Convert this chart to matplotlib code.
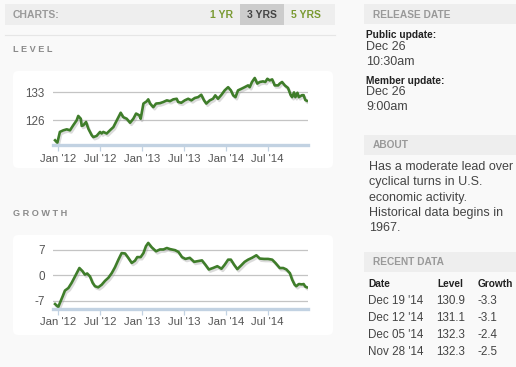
import numpy as np
import pandas as pd
import matplotlib
matplotlib.use('Agg')
import matplotlib.pyplot as plt
import matplotlib.dates as mdates
import matplotlib.patheffects as pe
from matplotlib.patches import FancyBboxPatch, Rectangle

plt.rcParams['font.family'] = ['Liberation Sans', 'DejaVu Sans']
plt.rcParams['axes.unicode_minus'] = False

# level series
level_dates = ['2011-12-18', '2011-12-28', '2012-01-08', '2012-01-23', '2012-02-07', '2012-02-21',
               '2012-03-06', '2012-03-21', '2012-03-28', '2012-04-08', '2012-04-12', '2012-04-19',
               '2012-05-01', '2012-05-11', '2012-05-26', '2012-06-02', '2012-06-16', '2012-07-01',
               '2012-07-08', '2012-07-15', '2012-07-30', '2012-08-13', '2012-08-28', '2012-09-12',
               '2012-09-29', '2012-10-10', '2012-10-25', '2012-11-09', '2012-11-23', '2012-12-05',
               '2012-12-19', '2012-12-25', '2013-01-06', '2013-01-20', '2013-01-27', '2013-02-04',
               '2013-02-18', '2013-03-02', '2013-03-19', '2013-04-03', '2013-04-18', '2013-05-02',
               '2013-05-16', '2013-05-31', '2013-06-06', '2013-06-20', '2013-07-05', '2013-07-20',
               '2013-08-03', '2013-08-18', '2013-09-01', '2013-09-15', '2013-09-27', '2013-10-07',
               '2013-10-22', '2013-11-05', '2013-11-15', '2013-11-27', '2013-12-12', '2013-12-26',
               '2014-01-10', '2014-01-22', '2014-02-01', '2014-02-11', '2014-02-22', '2014-03-09',
               '2014-03-23', '2014-04-07', '2014-04-14', '2014-04-24', '2014-05-06', '2014-05-17',
               '2014-05-28', '2014-06-11', '2014-06-21', '2014-06-30', '2014-07-10', '2014-07-21',
               '2014-08-01', '2014-08-16', '2014-08-23', '2014-09-02', '2014-09-14', '2014-09-28',
               '2014-10-10', '2014-10-16', '2014-10-24', '2014-10-30', '2014-11-08', '2014-11-14',
               '2014-11-28', '2014-12-05', '2014-12-12', '2014-12-19']
level_vals = [121.0, 120.4, 123.1, 123.5, 123.75, 123.5,
              124.75, 126.0, 127.1, 126.4, 124.6, 124.75,
              125.6, 123.9, 122.25, 121.8, 122.1, 123.1,
              122.7, 123.1, 122.7, 123.5, 124.3, 126.0,
              127.9, 126.8, 126.4, 125.4, 126.4, 127.7,
              127.25, 126.4, 130.2, 130.75, 131.25, 130.2,
              129.3, 130.2, 130.3, 130.6, 131.0, 130.8,
              131.25, 131.4, 130.6, 130.4, 131.0, 131.4,
              131.0, 131.6, 131.8, 132.4, 131.0, 130.2,
              131.0, 131.4, 132.25, 131.4, 132.4, 133.5,
              134.3, 133.5, 132.25, 131.8, 133.5, 133.9,
              134.3, 134.75, 134.3, 135.6, 136.6, 135.2,
              135.6, 135.75, 135.6, 136.4, 136.0, 136.25,
              134.75, 134.75, 135.2, 135.6, 134.75, 134.1,
              132.25, 131.8, 133.0, 131.8, 132.9, 131.8,
              132.3, 132.3, 131.1, 130.9]

# growth series
growth_dates = ['2011-12-18', '2012-01-01', '2012-01-08', '2012-01-20', '2012-01-30', '2012-02-14',
                '2012-02-28', '2012-03-14', '2012-04-02', '2012-04-16', '2012-04-26', '2012-05-06',
                '2012-05-18', '2012-05-30', '2012-06-09', '2012-06-23', '2012-07-08', '2012-07-23',
                '2012-08-06', '2012-08-21', '2012-09-04', '2012-09-19', '2012-10-03', '2012-10-18',
                '2012-11-01', '2012-11-16', '2012-11-30', '2012-12-10', '2012-12-25', '2013-01-06',
                '2013-01-17', '2013-01-27', '2013-02-11', '2013-03-02', '2013-03-19', '2013-04-03',
                '2013-04-18', '2013-05-02', '2013-05-24', '2013-06-08', '2013-06-23', '2013-07-08',
                '2013-07-27', '2013-08-15', '2013-09-01', '2013-09-18', '2013-10-03', '2013-10-18',
                '2013-11-05', '2013-11-24', '2013-12-12', '2013-12-26', '2014-01-10', '2014-01-22',
                '2014-02-05', '2014-02-19', '2014-03-09', '2014-03-23', '2014-04-07', '2014-04-24',
                '2014-05-13', '2014-05-28', '2014-06-16', '2014-07-03', '2014-07-21', '2014-08-04',
                '2014-08-23', '2014-09-07', '2014-09-21', '2014-10-06', '2014-10-16', '2014-10-27',
                '2014-11-03', '2014-11-14', '2014-11-28', '2014-12-05', '2014-12-12', '2014-12-19']
growth_vals = [-7.9, -8.7, -7.6, -5.8, -4.2, -3.5,
               -2.1, -0.3, 2.0, 1.1, 0.2, 0.5,
               -0.3, -2.1, -3.0, -3.3, -2.6, -1.5,
               -0.7, 0.6, 2.2, 4.3, 6.1, 6.0,
               4.8, 3.4, 4.0, 5.0, 5.0, 6.1,
               8.0, 8.9, 7.7, 6.6, 7.1, 7.1,
               7.5, 7.2, 6.9, 6.4, 5.0, 4.5,
               4.8, 3.7, 3.9, 4.1, 2.9, 1.6,
               2.0, 2.5, 1.8, 2.9, 4.3, 4.3,
               2.9, 1.7, 2.8, 3.7, 4.3, 4.8,
               5.5, 4.6, 4.5, 4.5, 4.3, 3.4,
               2.0, 2.0, 1.6, 0.6, -1.2, -2.6,
               -3.0, -2.4, -2.5, -2.4, -3.1, -3.3]

recent_dates = ["Dec 19 '14", "Dec 12 '14", "Dec 05 '14", "Nov 28 '14"]
recent_level = ['130.9', '131.1', '132.3', '132.3']
recent_growth = ['-3.3', '-3.1', '-2.4', '-2.5']

about_lines = ['Has a moderate lead over', 'cyclical turns in U.S.',
               'economic activity.', 'Historical data begins in', '1967.']

W, H = 516, 367
GREEN = '#3f7d2a'


def box(x, y, w, h):
    return [x / W, 1 - (y + h) / H, w / W, h / H]


fig = plt.figure(figsize=(W / 100, H / 100), dpi=100)
fig.patch.set_facecolor('#f9f9f9')

# page layer in pixel coordinates
bg = fig.add_axes([0, 0, 1, 1])
bg.set_xlim(0, W)
bg.set_ylim(H, 0)
bg.axis('off')

bg.add_patch(Rectangle((5, 4), 330, 21, color='#eeeeee', lw=0))
bg.add_patch(Rectangle((240, 4), 44, 21, color='#cccccc', lw=0))
bg.plot([5, 335], [35, 35], color='#e6e6e6', lw=0.8)
bg.text(13, 14.5, 'CHARTS:', fontsize=7.5, fontweight='bold', color='#999999', va='center')
bg.text(210, 14.5, '1 YR', fontsize=7.5, fontweight='bold', color='#7a9a32', va='center')
bg.text(247, 14.5, '3 YRS', fontsize=7.5, fontweight='bold', color='#444444', va='center')
bg.text(291, 14.5, '5 YRS', fontsize=7.5, fontweight='bold', color='#7a9a32', va='center')

bg.text(13, 50, 'L E V E L', fontsize=6.6, fontweight='bold', color='#8a8a8a', va='center')
bg.text(13, 214, 'G R O W T H', fontsize=6.6, fontweight='bold', color='#8a8a8a', va='center')

for top, bottom in [(71, 168), (235, 335)]:
    bg.add_patch(FancyBboxPatch((13, top), 320, bottom - top,
                                boxstyle='round,pad=0,rounding_size=5',
                                fc='white', ec='none'))

# right column
for y0 in [4, 135, 252]:
    bg.add_patch(Rectangle((364, y0), 152, 20, color='#eeeeee', lw=0))
bg.text(373, 14.5, 'RELEASE DATE', fontsize=7.3, fontweight='bold', color='#999999', va='center')
bg.text(373, 145.5, 'ABOUT', fontsize=7.3, fontweight='bold', color='#999999', va='center')
bg.text(373, 262, 'RECENT DATA', fontsize=7.3, fontweight='bold', color='#999999', va='center')

bg.text(366, 34.5, 'Public update:', fontsize=7.3, fontweight='bold', color='#222222', va='center')
bg.text(366, 47.5, 'Dec 26', fontsize=9, color='#444444', va='center')
bg.text(366, 62, '10:30am', fontsize=9, color='#444444', va='center')
bg.text(366, 80.5, 'Member update:', fontsize=7.3, fontweight='bold', color='#222222', va='center')
bg.text(366, 92, 'Dec 26', fontsize=9, color='#444444', va='center')
bg.text(366, 107, '9:00am', fontsize=9, color='#444444', va='center')

for i, line in enumerate(about_lines):
    bg.text(369, 167 + i * 15.3, line, fontsize=9, color='#444444', va='center')

bg.text(368, 284, 'Date', fontsize=7.3, fontweight='bold', color='#222222', va='center')
bg.text(437, 284, 'Level', fontsize=7.3, fontweight='bold', color='#222222', va='center')
bg.text(478, 284, 'Growth', fontsize=7.3, fontweight='bold', color='#222222', va='center')
for i in range(len(recent_dates)):
    yy = 300.5 + i * 17.2
    bg.text(368, yy, recent_dates[i], fontsize=8.4, color='#444444', va='center')
    bg.text(436, yy, recent_level[i], fontsize=8.4, color='#444444', va='center')
    bg.text(477, yy, recent_growth[i], fontsize=8.4, color='#444444', va='center')


def chart(rect, dates, vals, ylim, yticks):
    ax = fig.add_axes(rect)
    ax.set_facecolor('none')
    d = pd.to_datetime(dates)
    ax.plot(d, vals, color=GREEN, lw=1.9, solid_joinstyle='round',
            path_effects=[pe.SimpleLineShadow(offset=(1, -1.5), shadow_color='#999999', alpha=0.35),
                          pe.Normal()])
    ax.set_xlim(pd.Timestamp('2011-12-09'), pd.Timestamp('2014-12-24'))
    ax.set_ylim(*ylim)
    ax.set_yticks(yticks)
    ax.yaxis.grid(True, color='#c4c4c4', lw=0.9)
    ax.set_axisbelow(True)
    for s in ['top', 'right', 'left']:
        ax.spines[s].set_visible(False)
    ax.spines['bottom'].set_color('#c2d2e2')
    ax.spines['bottom'].set_linewidth(2.4)
    ax.xaxis.set_major_locator(mdates.MonthLocator(bymonth=[1, 7]))
    ax.xaxis.set_major_formatter(mdates.DateFormatter("%b '%y"))
    ax.tick_params(axis='x', length=4, width=0.9, color='#c2d2e2', labelsize=8.2,
                   labelcolor='#555555', pad=2)
    ax.tick_params(axis='y', length=0, labelsize=8.4, labelcolor='#555555', pad=6)
    return ax


chart(box(53, 72, 255, 73.3), level_dates, level_vals, (119.75, 138.1), [126, 133])
chart(box(53, 238, 255, 71), growth_dates, growth_vals, (-9.26, 10.25), [-7, 0, 7])

fig.savefig('out.png', dpi=100, facecolor=fig.get_facecolor())
